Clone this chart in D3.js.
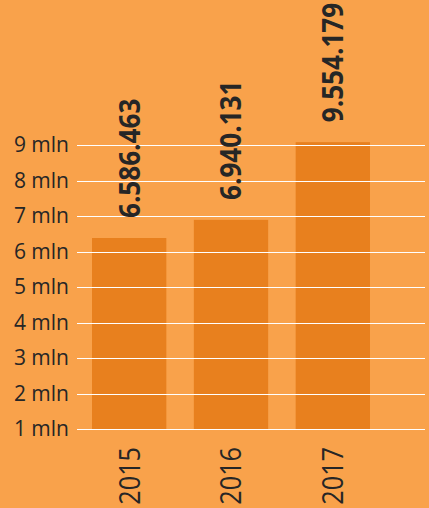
<!DOCTYPE html>
<meta charset="utf-8">
<script src="https://d3js.org/d3.v7.min.js"></script>
<html>
<head>
<style>
body { margin: 0; background: #F9A24B; }
text { font-family: "Open Sans", sans-serif; fill: #262626; }
</style>
</head>
<body>
<svg id="chart" width="429" height="508"></svg>
<script>

// Data
var years = ["2015", "2016", "2017"];
var labels = ["6.586.463", "6.940.131", "9.554.179"];
var barValues = [6.38, 6.89, 9.08];   // bar heights, in mln
var ticks = [1, 2, 3, 4, 5, 6, 7, 8, 9];

var svg = d3.select("#chart");

var x = d3.scaleBand()
    .domain(years)
    .range([92, 370])
    .paddingInner(0.27)
    .paddingOuter(0);

var y = d3.scaleLinear()
    .domain([1, 9])
    .range([429, 145]);

// bars
svg.append("g")
  .selectAll("rect")
  .data(years)
  .enter()
  .append("rect")
    .attr("x", function(d){ return x(d) })
    .attr("width", x.bandwidth())
    .attr("y", function(d, i){ return y(barValues[i]) })
    .attr("height", function(d, i){ return y(1) - y(barValues[i]) })
    .attr("fill", "#E8801E");

// grid lines on top of bars
svg.append("g")
  .selectAll("line")
  .data(ticks)
  .enter()
  .append("line")
    .attr("x1", 77)
    .attr("x2", 425)
    .attr("y1", function(d){ return Math.round(y(d)) + 0.5 })
    .attr("y2", function(d){ return Math.round(y(d)) + 0.5 })
    .attr("stroke", "#fff")
    .attr("stroke-width", 1);

// y tick labels
svg.append("g")
  .selectAll("text")
  .data(ticks)
  .enter()
  .append("text")
    .attr("x", 69)
    .attr("y", function(d){ return y(d) })
    .attr("dy", "0.35em")
    .attr("text-anchor", "end")
    .style("font-size", "21px")
    .text(function(d){ return d + " mln" });

// x labels, rotated
svg.append("g")
  .selectAll("text")
  .data(years)
  .enter()
  .append("text")
    .attr("transform", function(d){
      return "translate(" + (x(d) + x.bandwidth()/2) + ",447) rotate(-90) scale(0.87,1)";
    })
    .attr("dy", "0.36em")
    .attr("text-anchor", "end")
    .style("font-size", "29px")
    .text(function(d){ return d });

// value labels, rotated
svg.append("g")
  .selectAll("text")
  .data(years)
  .enter()
  .append("text")
    .attr("transform", function(d, i){
      return "translate(" + (x(d) + x.bandwidth()/2) + "," + (y(barValues[i]) - 20) + ") rotate(-90) scale(0.9,1)";
    })
    .attr("dy", "0.36em")
    .style("font-size", "29px")
    .style("font-weight", "bold")
    .text(function(d, i){ return labels[i] });

</script>
</body>
</html>
